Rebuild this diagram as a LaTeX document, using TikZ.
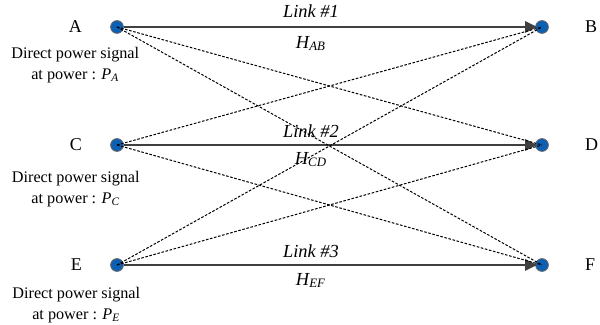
\documentclass[tikz,border=0pt]{standalone}
\usepackage{fontspec}
\setmainfont{Liberation Serif}
\usetikzlibrary{positioning}
\usetikzlibrary{arrows.meta}
\definecolor{dotblue}{RGB}{12,96,180}
\definecolor{linkgray}{RGB}{64,64,64}
\tikzset{
  dot/.style={circle,draw=gray!80!black,line width=0.4pt,fill=dotblue,inner sep=0pt,minimum size=6.4pt},
  link/.style={draw=linkgray,line width=1.3pt,-{Triangle[length=6pt,width=5.5pt]},shorten >=-1pt},
  cross/.style={dash pattern=on 1.3pt off 0.8pt,line width=0.5pt},
  station/.style={font=\fontsize{9}{11}\selectfont,inner sep=1pt},
  desc/.style={font=\fontsize{8.1}{10.5}\selectfont,align=center,inner sep=0pt},
  linklabel/.style={font=\fontsize{9.2}{11}\selectfont\itshape,inner sep=1pt}
}

\begin{document}
\begin{tikzpicture}[x=0.5pt,y=-0.5pt]
    %\draw [help lines] (0,0) grid (600,325);
    \useasboundingbox (0,0) rectangle (600,325);
    \node [dot] (A) at (117,27) {};
    \node [dot] (C) at (117,145) {};
    \node [dot] (E) at (117,265) {};
    \node [dot] (B) at (542,27) {};
    \node [dot] (D) at (542,145) {};
    \node [dot] (F) at (542,265) {};

    \node [station, left=13pt of A] (A_name) {A};
    \node [station, left=13pt of C] (C_name) {C};
    \node [station, left=13pt of E] (E_name) {E};
    \node [station, right=17pt of B] (B_name) {B};
    \node [station, right=17pt of D] (D_name) {D};
    \node [station, right=17pt of F] (F_name) {F};

    \node [desc, below=6pt of A_name] (A_desc) {Direct power signal\\at power : \textit{P\textsubscript{A}}};
    \node [desc, below=8.5pt of C_name] (C_desc) {Direct power signal\\at power : \textit{P\textsubscript{C}}};
    \node [desc, below=7pt of E_name] (E_desc) {Direct power signal\\at power : \textit{P\textsubscript{E}}};

    \draw [link] (A) -- (B) node [linklabel,pos=0.455,above=3pt] (link1) {Link \#1} node [linklabel,pos=0.455,below=3pt] (H_AB) {H\textsubscript{AB}};
    \draw [link] (C) -- (D) node [linklabel,pos=0.455,above=2pt] (link2) {Link \#2} node [linklabel,pos=0.455,below=2pt] (H_CD) {H\textsubscript{CD}};
    \draw [link] (E) -- (F) node [linklabel,pos=0.455,above=2pt] (link3) {Link \#3} node [linklabel,pos=0.455,below=2.5pt] (H_EF) {H\textsubscript{EF}};

    \draw [cross] (A.center) -- (D.center);
    \draw [cross] (A.center) -- (F.center);
    \draw [cross] (C.center) -- (B.center);
    \draw [cross] (C.center) -- (F.center);
    \draw [cross] (E.center) -- (B.center);
    \draw [cross] (E.center) -- (D.center);

\end{tikzpicture}
\end{document}
